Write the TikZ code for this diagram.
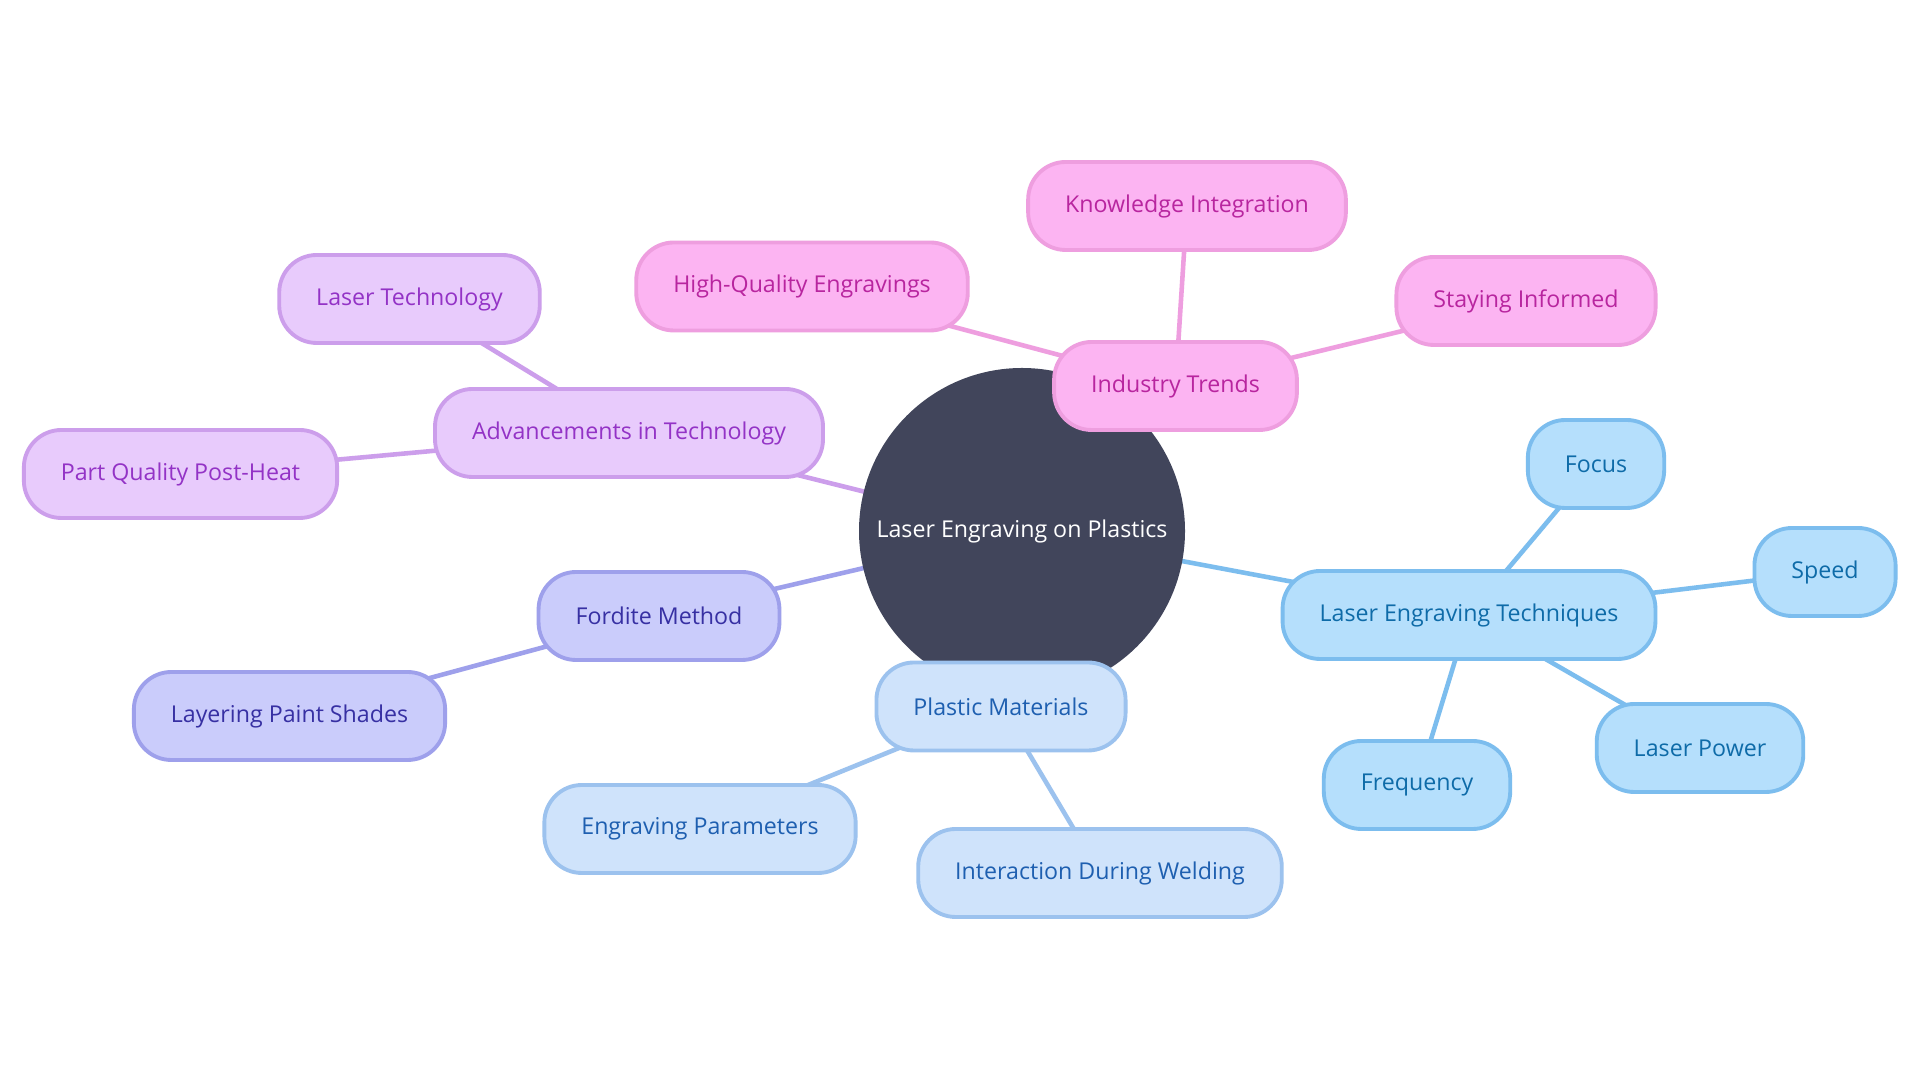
\documentclass[tikz,border=0pt]{standalone}
\usepackage{fontspec}
\setmainfont{Open Sans}
\usetikzlibrary{backgrounds}
\definecolor{hubfill}{HTML}{41455B}
\definecolor{pinkfill}{HTML}{FCB4F2}
\definecolor{pinkline}{HTML}{EE9EDF}
\definecolor{pinktext}{HTML}{B8259F}
\definecolor{lilacfill}{HTML}{E8CBFC}
\definecolor{lilacline}{HTML}{CC9EEB}
\definecolor{lilactext}{HTML}{9333C6}
\definecolor{indigofill}{HTML}{CACCFB}
\definecolor{indigoline}{HTML}{9EA0EB}
\definecolor{indigotext}{HTML}{3730A3}
\definecolor{paleblfill}{HTML}{CFE3FB}
\definecolor{paleblline}{HTML}{9CC2EE}
\definecolor{palebltext}{HTML}{1E5FB0}
\definecolor{skyfill}{HTML}{B5DFFC}
\definecolor{skyline}{HTML}{7CBDEE}
\definecolor{skytext}{HTML}{0E6BA8}
\tikzset{
  leaf/.style={rounded corners=0.75cm, line width=2.2pt, minimum height=1.76cm,
    inner xsep=0.74cm, font=\fontsize{13.2}{16}\selectfont},
  pinkbox/.style={leaf, draw=pinkline, fill=pinkfill, text=pinktext},
  lilacbox/.style={leaf, draw=lilacline, fill=lilacfill, text=lilactext},
  indigobox/.style={leaf, draw=indigoline, fill=indigofill, text=indigotext},
  palebox/.style={leaf, draw=paleblline, fill=paleblfill, text=palebltext},
  skybox/.style={leaf, draw=skyline, fill=skyfill, text=skytext},
  link/.style={line width=2.6pt}
}
\begin{document}
\begin{tikzpicture}
\useasboundingbox (0,0) rectangle (38.4,21.6);
\node[circle, fill=hubfill, minimum size=6.52cm, text=white,
  font=\fontsize{13.2}{16}\selectfont] (hub) at (20.44,10.98) {Laser Engraving on Plastics};
\node[pinkbox] (trends) at (23.51,13.88) {Industry Trends};
\node[pinkbox] (know) at (23.74,17.48) {Knowledge Integration};
\node[pinkbox] (inform) at (30.52,15.58) {Staying Informed};
\node[pinkbox] (quality) at (16.04,15.87) {High-Quality Engravings};
\node[lilacbox] (advance) at (12.58,12.94) {Advancements in Technology};
\node[lilacbox] (lasertech) at (8.19,15.62) {Laser Technology};
\node[lilacbox] (postheat) at (3.61,12.12) {Part Quality Post-Heat};
\node[indigobox] (fordite) at (13.18,9.28) {Fordite Method};
\node[indigobox] (layering) at (5.79,7.28) {Layering Paint Shades};
\node[palebox] (plastic) at (20.02,7.47) {Plastic Materials};
\node[palebox] (params) at (14.0,5.02) {Engraving Parameters};
\node[palebox] (welding) at (22.0,4.14) {Interaction During Welding};
\node[skybox] (techniques) at (29.38,9.3) {Laser Engraving Techniques};
\node[skybox] (focus) at (31.92,12.32) {Focus};
\node[skybox] (speed) at (36.5,10.16) {Speed};
\node[skybox] (power) at (34.0,6.64) {Laser Power};
\node[skybox] (freq) at (28.34,5.9) {Frequency};
\begin{scope}[on background layer]
\fill[white] (0,0) rectangle (38.4,21.6);
\draw[link, pinkline] (hub.center) -- (trends.center);
\draw[link, pinkline] (trends.center) -- (know.center);
\draw[link, pinkline] (trends.center) -- (inform.center);
\draw[link, pinkline] (trends.center) -- (quality.center);
\draw[link, lilacline] (hub.center) -- (advance.center);
\draw[link, lilacline] (advance.center) -- (lasertech.center);
\draw[link, lilacline] (advance.center) -- (postheat.center);
\draw[link, indigoline] (hub.center) -- (fordite.center);
\draw[link, indigoline] (fordite.center) -- (layering.center);
\draw[link, paleblline] (hub.center) -- (plastic.center);
\draw[link, paleblline] (plastic.center) -- (params.center);
\draw[link, paleblline] (plastic.center) -- (welding.center);
\draw[link, skyline] (hub.center) -- (techniques.center);
\draw[link, skyline] (techniques.center) -- (focus.center);
\draw[link, skyline] (techniques.center) -- (speed.center);
\draw[link, skyline] (techniques.center) -- (power.center);
\draw[link, skyline] (techniques.center) -- (freq.center);
\end{scope}
\end{tikzpicture}
\end{document}
